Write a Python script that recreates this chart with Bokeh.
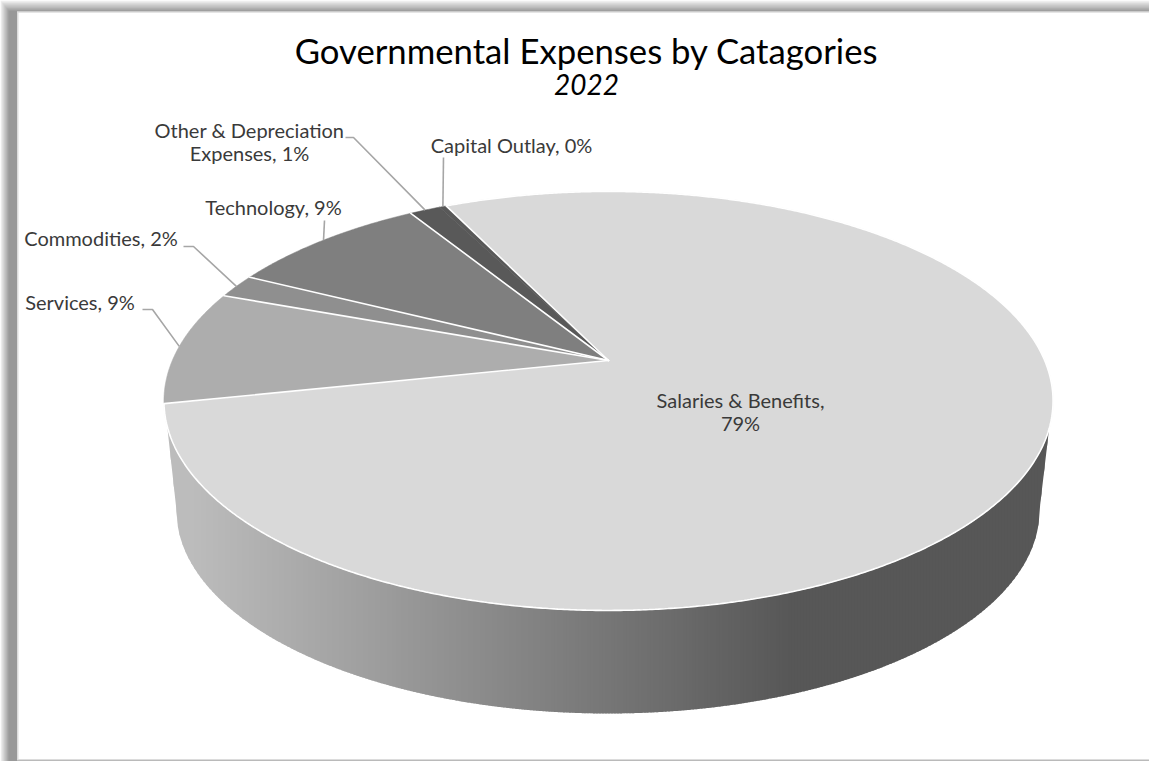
import numpy as np
from bokeh.plotting import figure
from bokeh.models import Range1d
from bokeh.core.properties import value
from bokeh.embed import file_html
from bokeh.resources import INLINE

TITLE = "Governmental Expenses by Catagories"
SUBTITLE = "2022"
categories = ["Salaries & Benefits", "Services", "Commodities", "Technology",
              "Other & Depreciation Expenses", "Capital Outlay"]
shares = [78.9, 8.85, 1.85, 8.75, 1.35, 0.3]
slice_colors = ["#d9d9d9", "#adadad", "#8f8f8f", "#7f7f7f", "#595959", "#595959"]

FONT = "Lato"
W, H = 1149, 761

# projection of the round pie top
CX, CY = 608.0, 360.0
A, B, K = 436.2, 201.7, 0.193
START_DEG = -25.9


def project(theta_deg):
    t = np.radians(theta_deg)
    u, v = np.sin(t), np.cos(t)
    w = 1 + K * v
    return CX + A * u / w, CY - B * v / w


p = figure(width=W, height=H, output_backend="svg", toolbar_location=None,
           x_range=Range1d(0, W), y_range=Range1d(H, 0),
           x_axis_type=None, y_axis_type=None, min_border=0,
           outline_line_color=None, background_fill_color="white",
           border_fill_color="white")
p.grid.visible = False

# frame of the picture: soft shadow, grey band, thin light edge
for k in range(9):
    g = int(round(0xf0 + (0x99 - 0xf0) * k / 8))
    p.quad(left=[k], right=[1200], top=[k * 1.25], bottom=[800],
           fill_color=f"#{g:02x}{g:02x}{g:02x}", line_color=None)
p.quad(left=[16.5], right=[1200], top=[10.8], bottom=[760], fill_color="#dcdcdc", line_color=None)
p.quad(left=[18], right=[1200], top=[12.2], bottom=[758.5], fill_color="white", line_color=None)

# side wall of the pie, shaded left to right
TOP_A, TOP_B, TOP_CX, TOP_CY = 444.5, 209.5, 607.5, 400.5
BOT_A, BOT_B, BOT_CX, BOT_CY = 431.5, 203.0, 607.5, 510.0
WALL_L, WALL_R = 167.0, 1049.0


def wall_top(x):
    return TOP_CY + TOP_B * np.sqrt(np.clip(1 - ((x - TOP_CX) / TOP_A) ** 2, 0, 1))


def wall_bottom(x):
    x = np.asarray(x, dtype=float)
    inner = BOT_CY + BOT_B * np.sqrt(np.clip(1 - ((x - BOT_CX) / BOT_A) ** 2, 0, 1))
    left = wall_top(WALL_L) + (x - WALL_L) * (BOT_CY - wall_top(WALL_L)) / (BOT_CX - BOT_A - WALL_L)
    right = wall_top(WALL_R) + (WALL_R - x) * (BOT_CY - wall_top(WALL_R)) / (WALL_R - BOT_CX - BOT_A)
    return np.where(x < BOT_CX - BOT_A, left, np.where(x > BOT_CX + BOT_A, right, inner))


def shade(x):
    f = np.clip((x - 190.0) / (790.0 - 190.0), 0, 1)
    g = int(round(0xbc + (0x57 - 0xbc) * f))
    return f"#{g:02x}{g:02x}{g:02x}"


STEP = 3.0
xs_wall, ys_wall, cs_wall = [], [], []
for x0 in np.arange(WALL_L, WALL_R, STEP):
    x1 = min(x0 + STEP + 1.0, WALL_R)
    seg = np.linspace(x0, x1, 4)
    xs_wall.append(list(seg) + list(seg[::-1]))
    ys_wall.append(list(wall_top(seg) - 2) + list(wall_bottom(seg[::-1])))
    cs_wall.append(shade(x0))
p.patches(xs_wall, ys_wall, fill_color=cs_wall, line_color=None)

# pie top
total = sum(shares)
edges = [START_DEG]
for s in shares:
    edges.append(edges[-1] + 360.0 * s / total)

xs_top, ys_top, mids, arcs_x, arcs_y = [], [], [], [], []
for i in range(len(shares)):
    th = np.linspace(edges[i], edges[i + 1], max(3, int(abs(edges[i + 1] - edges[i]) * 3)))
    x, y = project(th)
    xs_top.append([CX] + list(x))
    ys_top.append([CY] + list(y))
    arcs_x.append(list(x))
    arcs_y.append(list(y))
    mids.append((edges[i] + edges[i + 1]) / 2)
p.patches(xs_top, ys_top, fill_color=slice_colors, line_color=slice_colors, line_width=0.5)

# white dividers; the sliver of the smallest slice shows no line of its own
spokes = [e for j, e in enumerate(edges[:-1]) if j != len(shares) - 1]
sx, sy = project(np.array(spokes))
p.multi_line([[CX, float(a)] for a in sx], [[CY, float(b)] for b in sy],
             line_color="white", line_width=1.6, line_cap="round")
p.multi_line(arcs_x[:1], arcs_y[:1], line_color="white", line_width=1.6)

# leader lines: label side points, then the slice's rim
elbows = {
    1: [(142, 309), (152, 309)],
    2: [(183, 246), (193, 246)],
    3: [(324, 220)],
    4: [(345, 137), (353, 137)],
    5: [(443, 157)],
}
for i, pts in elbows.items():
    ax, ay = project(mids[i])
    p.line([q[0] for q in pts] + [float(ax)], [q[1] for q in pts] + [float(ay)],
           line_color="#a6a6a6", line_width=1.6)

# labels, one text per line
def label(i):
    name = categories[i]
    pct = f"{round(shares[i] / total * 100)}%"
    if i == 0:
        return [f"{name},", pct]
    if i == 4:
        return ["Other & Depreciation", f"Expenses, {pct}"]
    return [f"{name}, {pct}"]


LINE_GAP = 23
label_pos = {0: (740, 399), 1: (79.5, 301.5), 2: (100.5, 237.5), 3: (273, 206.5), 4: (249, 129), 5: (511, 144.5)}
for i, (lx, ly) in label_pos.items():
    for n, line in enumerate(label(i)):
        p.text([lx], [ly + n * LINE_GAP], text=[line], text_font=value(FONT), text_font_size="20px",
               text_color="#3a3a3a", text_align="center", text_baseline="middle")

p.text([586], [50], text=[TITLE], text_font=value(FONT), text_font_size="34.7px",
       text_color="#000000", text_align="center", text_baseline="middle")
p.text([586], [84], text=[SUBTITLE], text_font=value(FONT), text_font_size="28px",
       text_font_style="italic", text_color="#000000", text_align="center", text_baseline="middle")

open("out.html", "w").write(file_html(p, INLINE))
